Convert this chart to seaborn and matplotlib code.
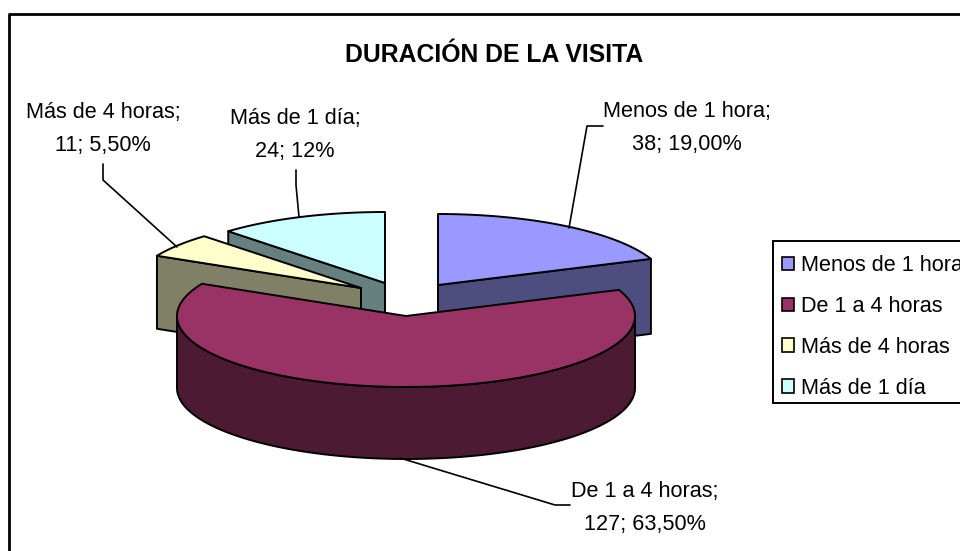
import numpy as np
import matplotlib
matplotlib.use("Agg")
import matplotlib.pyplot as plt
from matplotlib.patches import Polygon, Patch, Rectangle
import seaborn as sns

categories = ["Menos de 1 hora", "De 1 a 4 horas", "Más de 4 horas", "Más de 1 día"]
values = [38, 127, 11, 24]
percent_labels = ["19,00%", "63,50%", "5,50%", "12%"]
title = "DURACIÓN DE LA VISITA"

top_colors = sns.color_palette(["#9999FF", "#993366", "#FFFFCC", "#CCFFFF"])
side_colors = sns.color_palette(["#4D4D80", "#4D1A33", "#808066", "#668080"])

# layout (pixels in a 960x551 canvas)
apex = [(438, 285), (406, 316), (361, 288), (385, 283)]
depths = [75, 72, 73, 72]
RX, RY = 229, 71
draw_order = [3, 2, 0, 1]
label_pos = [(687, 128), (645, 508), (103, 129), (295, 135)]
leaders = [
    [(603, 126), (587, 126), (569, 228)],
    [(400, 458), (555, 505), (570, 505)],
    [(103, 164), (103, 180), (177, 247)],
    [(296, 170), (296, 185), (299, 217)],
]
LW = 1.4
INK = "#000000"

sns.set_theme(style="white")
plt.rcParams["font.family"] = ["Liberation Sans", "DejaVu Sans"]

fig = plt.figure(figsize=(9.6, 5.51), dpi=100)
ax = fig.add_axes([0, 0, 1, 1])
ax.set_xlim(0, 960)
ax.set_ylim(551, 0)
ax.axis("off")


def rim(c, theta):
    t = np.radians(theta)
    return np.column_stack([c[0] + RX * np.sin(t), c[1] - RY * np.cos(t)])


def poly(points, color, z):
    ax.add_patch(Polygon(points, closed=True, facecolor=color, edgecolor=INK,
                         linewidth=LW, joinstyle="round", zorder=z))


# frame of the chart area (its right and bottom sides fall off the picture)
ax.plot([9, 9], [551, 14], color=INK, lw=2.0, zorder=1, solid_capstyle="butt")
ax.plot([8, 960], [14, 14], color=INK, lw=2.0, zorder=1, solid_capstyle="butt")

shares = np.array(values, dtype=float) / np.sum(values) * 360
ends = np.cumsum(shares)
starts = ends - shares

z = 2
for i in draw_order:
    c = np.array(apex[i], dtype=float)
    a0, a1 = starts[i], ends[i]
    down = np.array([0, depths[i]])
    # radial faces turned towards the viewer
    if np.cos(np.radians(a0 - 90)) < -1e-6:
        p = rim(c, np.array([a0]))[0]
        poly([c, p, p + down, c + down], side_colors[i], z)
    if np.cos(np.radians(a1 + 90)) < -1e-6:
        p = rim(c, np.array([a1]))[0]
        poly([c, p, p + down, c + down], side_colors[i], z)
    # outer wall on the front half of the rim
    w0, w1 = max(a0, 90), min(a1, 270)
    if w1 > w0:
        arc = rim(c, np.linspace(w0, w1, 120))
        poly(np.vstack([arc, arc[::-1] + down]), side_colors[i], z + 0.1)
    # top face
    arc = rim(c, np.linspace(a0, a1, 160))
    poly(np.vstack([c, arc]), top_colors[i], z + 0.2)
    z += 1

# data labels and leader lines
for i, cat in enumerate(categories):
    ax.text(label_pos[i][0], label_pos[i][1], f"{cat};\n{values[i]}; {percent_labels[i]}",
            ha="center", va="center", fontsize=15.6, linespacing=1.75, color="black", zorder=20)
    xs, ys = zip(*leaders[i])
    ax.plot(xs, ys, color=INK, lw=1.2, zorder=19)

ax.text(494, 55, title, ha="center", va="center", fontsize=17.8, fontweight="bold",
        color="black", zorder=20)

# legend box: the reference's box runs past the right edge of the picture
ax.add_patch(Rectangle((773, 241), 200, 162, facecolor="white", edgecolor=INK,
                       linewidth=1.4, zorder=19))
handles = [Patch(facecolor=top_colors[i], edgecolor=INK, linewidth=1.2) for i in range(4)]
leg = ax.legend(handles, categories, loc="upper left", bbox_to_anchor=(773 / 960, 1 - 246 / 551),
                bbox_transform=fig.transFigure, frameon=False, fontsize=15.6,
                handlelength=0.55, handleheight=0.6, handletextpad=0.32,
                labelspacing=0.92, borderpad=0.42, borderaxespad=0)
leg.set_zorder(20)
for t in leg.get_texts():
    t.set_color("black")

fig.savefig("out.png", dpi=100, facecolor="white")
